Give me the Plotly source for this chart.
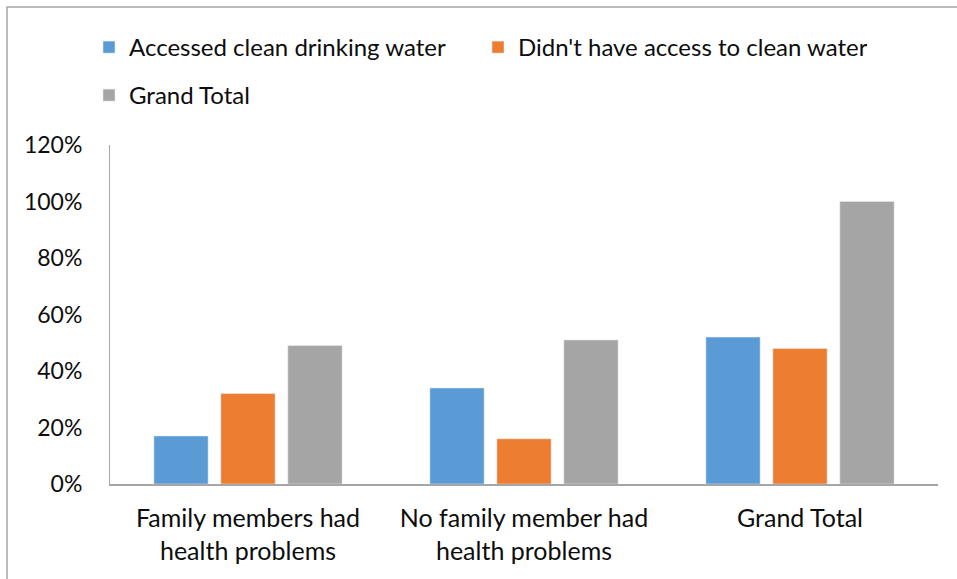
import plotly.graph_objects as go

# Survey results: share of households by health outcome and water access
categories = [
    "Family members had<br>health problems",
    "No family member had<br>health problems",
    "Grand Total",
]
accessed_clean = [0.17, 0.34, 0.52]
no_clean_access = [0.32, 0.16, 0.48]
grand_total = [0.49, 0.51, 1.00]

y_ticks = [0, 0.2, 0.4, 0.6, 0.8, 1.0, 1.2]
y_tick_labels = ["0%", "20%", "40%", "60%", "80%", "100%", "120%"]

FONT = "Lato"
TEXT = "#0d0d0d"
AXIS = "#a6a6a6"

W, H = 957, 579
L, R, T, B = 110, 19, 145, 95
PW, PH = W - L - R, H - T - B


def px_x(x):
    return (x - L) / PW


def px_y(y):
    return (H - B - y) / PH


fig = go.Figure()
fig.add_trace(go.Bar(x=categories, y=accessed_clean, name="Accessed clean drinking water",
                     marker=dict(color="#5B9BD5"), legend="legend"))
fig.add_trace(go.Bar(x=categories, y=no_clean_access, name="Didn't have access to clean water",
                     marker=dict(color="#ED7D31"), legend="legend"))
fig.add_trace(go.Bar(x=categories, y=grand_total, name="Grand Total",
                     marker=dict(color="#A5A5A5"), legend="legend2"))

fig.update_layout(
    width=W, height=H,
    margin=dict(l=L, r=R, t=T, b=B),
    paper_bgcolor="white", plot_bgcolor="white",
    font=dict(family=FONT, size=24, color=TEXT),
    barmode="group", bargap=0.272, bargroupgap=0.19,
    legend=dict(orientation="h", x=px_x(89), y=px_y(25), xanchor="left", yanchor="top",
                entrywidth=344, entrywidthmode="pixels",
                font=dict(family=FONT, size=24, color=TEXT), bgcolor="rgba(0,0,0,0)"),
    legend2=dict(orientation="h", x=px_x(89), y=px_y(73), xanchor="left", yanchor="top",
                 font=dict(family=FONT, size=24, color=TEXT), bgcolor="rgba(0,0,0,0)"),
    xaxis=dict(showline=True, linecolor=AXIS, linewidth=2, ticks="", showgrid=False,
               ticklabelstandoff=11, tickfont=dict(family=FONT, size=25, color=TEXT)),
    yaxis=dict(range=[0, 1.2], tickvals=y_ticks, ticktext=y_tick_labels,
               showline=True, linecolor=AXIS, linewidth=1, ticks="", showgrid=False,
               zeroline=False, ticklabelstandoff=22,
               tickfont=dict(family=FONT, size=23, color=TEXT)),
    shapes=[
        # chart area frame
        dict(type="rect", xref="paper", yref="paper",
             x0=px_x(7), x1=px_x(W + 5), y0=px_y(H + 5), y1=px_y(7),
             line=dict(color=AXIS, width=1.5), fillcolor="rgba(0,0,0,0)", layer="below"),
    ],
)

fig.write_html("out.html")
